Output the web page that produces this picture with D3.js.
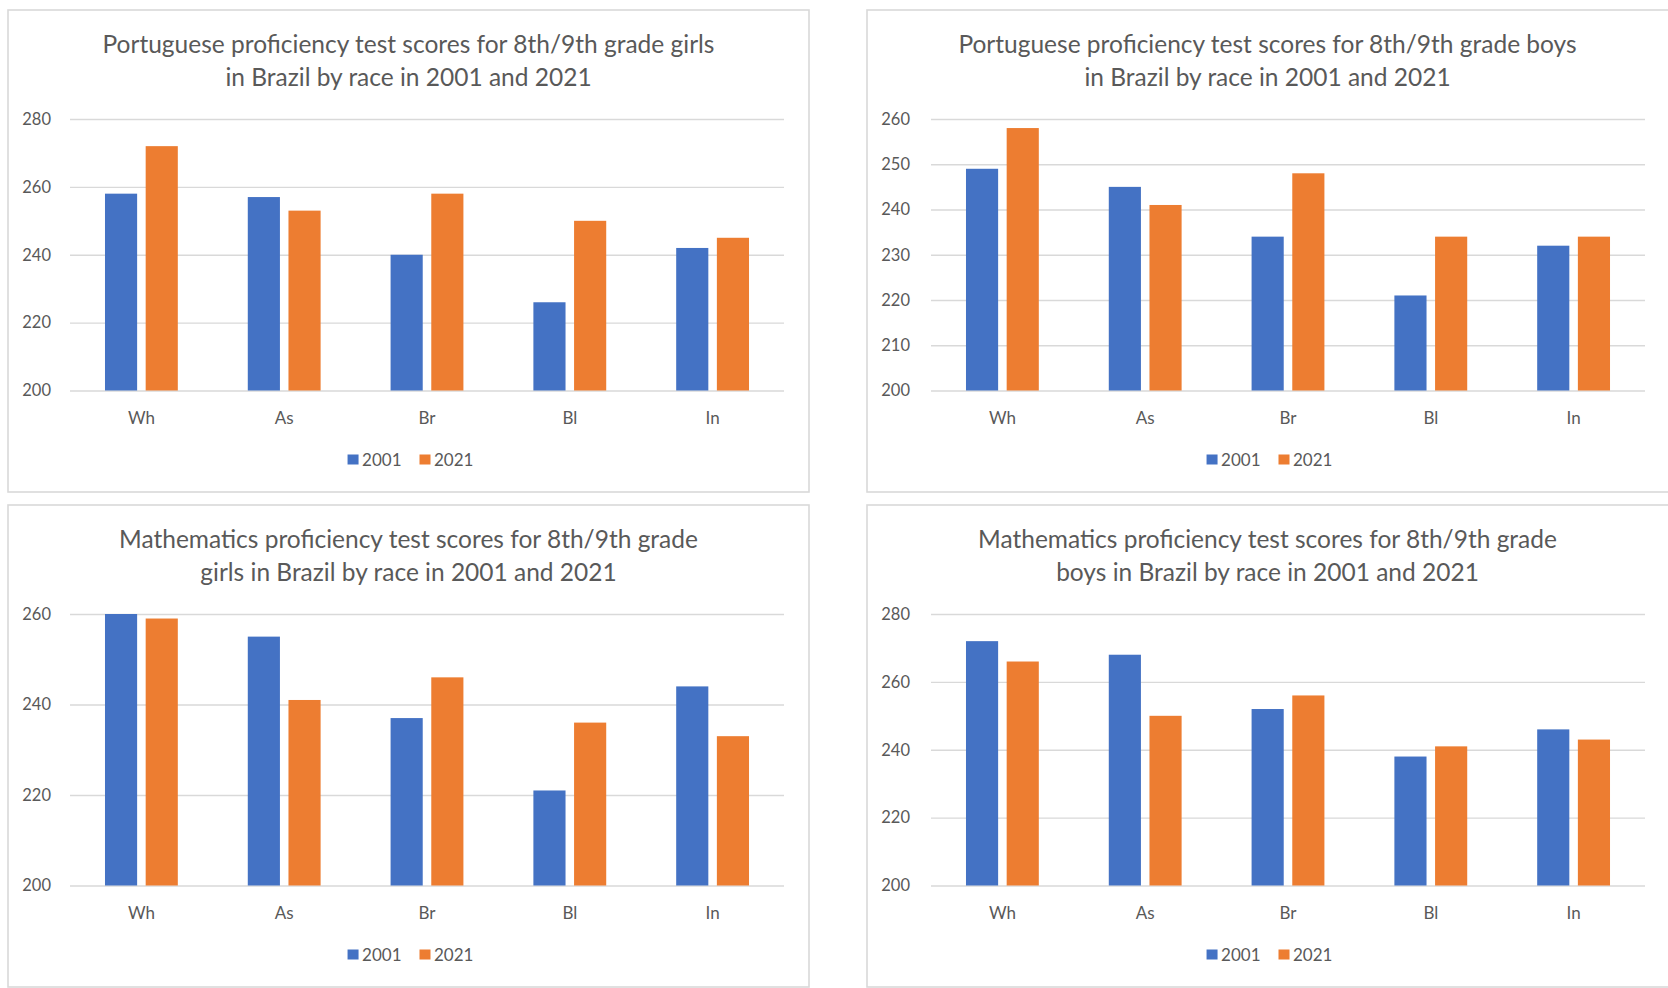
<!DOCTYPE html>
<html>
<head>
<meta charset="utf-8">
<script src="https://cdn.jsdelivr.net/npm/d3@7"></script>
<style>
  html, body { margin: 0; padding: 0; background: #ffffff; }
  svg { display: block; }
  text { font-family: Lato, "Open Sans", sans-serif; fill: #595959; }
</style>
</head>
<body>
<svg id="chart" width="1668" height="988"></svg>
<script>
// ---------------- data ----------------
const categories = ["Wh", "As", "Br", "Bl", "In"];
const seriesNames = ["2001", "2021"];
const seriesColors = ["#4472C4", "#ED7D31"];

const portGirlsTitle = ["Portuguese proficiency test scores for 8th/9th grade girls", "in Brazil by race in 2001 and 2021"];
const portGirls2001 = [258, 257, 240, 226, 242];
const portGirls2021 = [272, 253, 258, 250, 245];
const portGirlsTicks = [200, 220, 240, 260, 280];

const portBoysTitle = ["Portuguese proficiency test scores for 8th/9th grade boys", "in Brazil by race in 2001 and 2021"];
const portBoys2001 = [249, 245, 234, 221, 232];
const portBoys2021 = [258, 241, 248, 234, 234];
const portBoysTicks = [200, 210, 220, 230, 240, 250, 260];

const mathGirlsTitle = ["Mathematics proficiency test scores for 8th/9th grade", "girls in Brazil by race in 2001 and 2021"];
const mathGirls2001 = [260, 255, 237, 221, 244];
const mathGirls2021 = [259, 241, 246, 236, 233];
const mathGirlsTicks = [200, 220, 240, 260];

const mathBoysTitle = ["Mathematics proficiency test scores for 8th/9th grade", "boys in Brazil by race in 2001 and 2021"];
const mathBoys2001 = [272, 268, 252, 238, 246];
const mathBoys2021 = [266, 250, 256, 241, 243];
const mathBoysTicks = [200, 220, 240, 260, 280];

// ---------------- layout ----------------
const svg = d3.select("#chart");
const panelW = 801, panelH = 482;
const panels = [
  { x: 8,   y: 10,  dx: 0, title: portGirlsTitle, s1: portGirls2001, s2: portGirls2021, ticks: portGirlsTicks },
  { x: 867, y: 10,  dx: 2, title: portBoysTitle,  s1: portBoys2001,  s2: portBoys2021,  ticks: portBoysTicks },
  { x: 8,   y: 505, dx: 0, title: mathGirlsTitle, s1: mathGirls2001, s2: mathGirls2021, ticks: mathGirlsTicks },
  { x: 867, y: 505, dx: 2, title: mathBoysTitle,  s1: mathBoys2001,  s2: mathBoys2021,  ticks: mathBoysTicks }
];

const plotT = 109, plotB = 380.5;

panels.forEach(p => {
  const plotL = 62 + p.dx, plotR = 776 + p.dx;
  const g = svg.append("g").attr("transform", `translate(${p.x},${p.y})`);

  // panel border
  g.append("rect")
    .attr("x", 0).attr("y", 0)
    .attr("width", p.x > 800 ? panelW + 4 : panelW).attr("height", panelH)
    .attr("fill", "#ffffff")
    .attr("stroke", "#D9D9D9").attr("stroke-width", 1.6);

  // title
  const cx = panelW / 2;
  g.append("text").attr("x", cx).attr("y", 33.5).attr("text-anchor", "middle")
    .attr("dominant-baseline", "central").style("font-size", "24.5px").text(p.title[0]);
  g.append("text").attr("x", cx).attr("y", 66).attr("text-anchor", "middle")
    .attr("dominant-baseline", "central").style("font-size", "24.5px").text(p.title[1]);

  const y = d3.scaleLinear()
    .domain([d3.min(p.ticks), d3.max(p.ticks)])
    .range([plotB, plotT]);

  const x0 = d3.scaleBand().domain(categories).range([plotL, plotR])
    .paddingInner(0.49).paddingOuter(0.245);
  const x1 = d3.scaleBand().domain(seriesNames).range([0, x0.bandwidth()])
    .paddingInner(0.21).paddingOuter(0);

  // y axis + gridlines
  const yAxis = d3.axisLeft(y).tickValues(p.ticks).tickSize(-(plotR - plotL))
    .tickPadding(19 + p.dx).tickFormat(d3.format("d"));
  const ya = g.append("g").attr("transform", `translate(${plotL},0)`).call(yAxis);
  ya.select(".domain").remove();
  ya.selectAll(".tick line").attr("stroke", "#D9D9D9").attr("stroke-width", 1.4);
  ya.selectAll(".tick text").attr("fill", "#595959")
    .style("font-size", "16.5px").style("font-family", "Lato, 'Open Sans', sans-serif");

  // bars
  const rows = categories.map((c, i) => ({ cat: c, vals: [p.s1[i], p.s2[i]] }));
  const grp = g.selectAll("g.cat").data(rows).join("g").attr("class", "cat")
    .attr("transform", d => `translate(${x0(d.cat)},0)`);
  grp.selectAll("rect").data(d => d.vals.map((v, k) => ({ s: seriesNames[k], v, k })))
    .join("rect")
    .attr("x", d => x1(d.s))
    .attr("y", d => y(d.v))
    .attr("width", x1.bandwidth())
    .attr("height", d => y(y.domain()[0]) - y(d.v))
    .attr("fill", d => seriesColors[d.k]);

  // x axis labels
  const xAxis = d3.axisBottom(x0).tickSize(0).tickPadding(0);
  const xa = g.append("g").attr("transform", `translate(0,${plotB})`).call(xAxis);
  xa.select(".domain").remove();
  xa.selectAll(".tick text").attr("y", 27).attr("dy", null)
    .attr("dominant-baseline", "central").attr("fill", "#595959")
    .style("font-size", "17px").style("font-family", "Lato, 'Open Sans', sans-serif");

  // legend
  const lg = g.append("g").attr("class", "legend");
  let lx = 0;
  seriesNames.forEach((s, k) => {
    lg.append("rect").attr("x", lx).attr("y", 449.5 - 5).attr("width", 11).attr("height", 10)
      .attr("fill", seriesColors[k]);
    const t = lg.append("text").attr("x", lx + 14.5).attr("y", 449.5)
      .attr("dominant-baseline", "central").style("font-size", "17px").text(s);
    lx += 14.5 + t.node().getComputedTextLength() + 18;
  });
  const lw = lx - 18;
  lg.attr("transform", `translate(${cx + 2 - lw / 2},0)`);
});
</script>
</body>
</html>
